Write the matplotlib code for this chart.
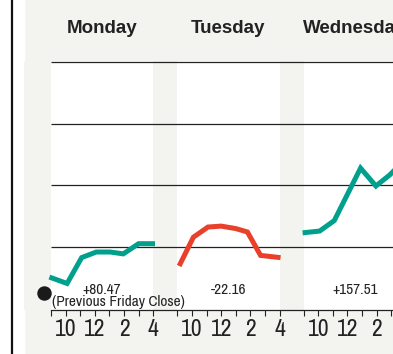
import matplotlib
matplotlib.use('Agg')
import matplotlib.pyplot as plt
from matplotlib.patches import Rectangle
from matplotlib.lines import Line2D

# Dow intraday moves, points relative to the previous Friday close
days = ['Monday', 'Tuesday', 'Wednesday']
day_changes = ['+80.47', '-22.16', '+157.51']
mon_hours = [9.05, 10.1, 11.1, 12.1, 13.05, 13.95, 15.0, 15.95]
mon_vals = [25, 16, 58, 67, 67, 64, 80.5, 80.47]
tue_hours = [9.2, 10.1, 11.1, 12.0, 13.0, 13.8, 14.7, 15.9]
tue_vals = [48, 91, 107.5, 109, 105, 99.5, 61.5, 58.31]
wed_hours = [9.1, 10.1, 11.1, 12.9, 13.95, 14.9, 15.9]
wed_vals = [98.5, 101, 118, 203, 174, 192, 215.82]
hours = [9, 10, 11, 12, 13, 14, 15, 16]
hour_labels = ['', '10', '', '12', '', '2', '', '4']
grid_levels = [75, 175, 275, 375]

BG = '#f3f3ef'
INK = '#222222'
TEAL = '#00a08c'
RED = '#e8402a'
DAY_GAP = 8.65  # hours of x-axis per day including the gap between sessions
NARROW = ['Archivo Narrow', 'Roboto Condensed', 'DejaVu Sans']
HEAD = ['Liberation Sans', 'DejaVu Sans']

W, H = 393, 354
fig = plt.figure(figsize=(W / 100, H / 100), dpi=100)
fig.patch.set_facecolor(BG)
fig.add_artist(Rectangle((0, 0), 24 / W, 1, transform=fig.transFigure,
                         color='white', zorder=0))
fig.add_artist(Line2D([12 / W, 12 / W], [0, 1], transform=fig.transFigure,
                      color='#111111', lw=1.6))

ax = fig.add_axes([24 / W, 1 - 310 / H, (420 - 24) / W, (310 - 61.4) / H])
ax.set_facecolor(BG)
ax.set_xlim(-1.85, 25.27)
ax.set_ylim(-27, 376)


def tpos(day, h):
    return day * DAY_GAP + (h - 9)


# white trading-session panels
for d in range(len(days)):
    ax.axvspan(tpos(d, 9), tpos(d, 16), color='white', lw=0, zorder=0)

ax.hlines(grid_levels, 0, 26, color=INK, lw=0.9, zorder=1)

series = [(mon_hours, mon_vals, TEAL), (tue_hours, tue_vals, RED),
          (wed_hours, wed_vals, TEAL)]
for d, (hs, vs, c) in enumerate(series):
    ax.plot([tpos(d, h) for h in hs], vs, color=c, lw=3.6, zorder=3,
            solid_joinstyle='miter')

# previous Friday close marker
ax.plot([-0.48], [0], 'o', color='#1a1a1a', ms=9.4, clip_on=False, zorder=4)
ax.text(0.05, -14, '(Previous Friday Close)', fontsize=11, color=INK,
        ha='left', va='center', family=NARROW)

for d, (name, chg) in enumerate(zip(days, day_changes)):
    mid = tpos(d, 12.5)
    ax.text(mid, 6, chg, fontsize=11, color=INK, ha='center', va='center',
            family=NARROW)
    ax.text(mid, 1.134, name, transform=ax.get_xaxis_transform(),
            fontsize=13.5, fontweight='bold', color=INK, ha='center',
            va='center', family=HEAD, clip_on=False)

ticks, labels = [], []
for d in range(len(days)):
    for h, lab in zip(hours, hour_labels):
        ticks.append(tpos(d, h))
        labels.append(lab)
ax.set_xticks(ticks)
ax.set_xticklabels(labels, fontsize=17, color=INK, family=NARROW)
ax.tick_params(axis='x', direction='out', length=4.5, width=0.8, color=INK,
               pad=2)
ax.set_yticks([])
for s in ['left', 'right', 'top']:
    ax.spines[s].set_visible(False)
ax.spines['bottom'].set_bounds(0, 26)
ax.spines['bottom'].set_color(INK)
ax.spines['bottom'].set_linewidth(0.9)

fig.savefig('out.png', dpi=100, facecolor=fig.get_facecolor())
